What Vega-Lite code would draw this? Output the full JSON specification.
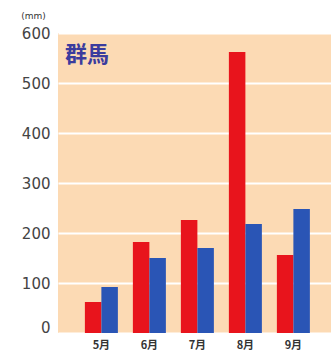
{
  "$schema": "https://vega.github.io/schema/vega-lite/v6.json",
  "width": 273,
  "height": 300,
  "autosize": {"type": "none"},
  "padding": {"left": 58, "top": 33, "right": 0, "bottom": 25},
  "background": "white",
  "title": {
    "text": "群馬",
    "anchor": "start",
    "frame": "group",
    "orient": "top",
    "offset": -56,
    "dx": 7,
    "font": "Noto Sans CJK JP",
    "fontSize": 22,
    "fontWeight": "bold",
    "color": "#3B3C9E"
  },
  "data": {
    "values": [
      {"month": "5月", "series": "a", "value": 62},
      {"month": "5月", "series": "b", "value": 92},
      {"month": "6月", "series": "a", "value": 182},
      {"month": "6月", "series": "b", "value": 150},
      {"month": "7月", "series": "a", "value": 226},
      {"month": "7月", "series": "b", "value": 170},
      {"month": "8月", "series": "a", "value": 562},
      {"month": "8月", "series": "b", "value": 218},
      {"month": "9月", "series": "a", "value": 156},
      {"month": "9月", "series": "b", "value": 248}
    ]
  },
  "mark": {"type": "bar"},
  "encoding": {
    "x": {
      "field": "month",
      "type": "nominal",
      "sort": null,
      "scale": {"paddingInner": 0.3125, "paddingOuter": 0.5, "align": 0.56},
      "axis": {
        "title": null,
        "labelAngle": 0,
        "domain": false,
        "ticks": false,
        "labelPadding": 6,
        "labelFont": "Noto Sans CJK JP",
        "labelFontSize": 11,
        "labelFontWeight": "bold",
        "labelColor": "#333"
      }
    },
    "xOffset": {"field": "series", "type": "nominal", "scale": {"paddingInner": 0, "paddingOuter": 0}},
    "y": {
      "field": "value",
      "type": "quantitative",
      "scale": {"domain": [0, 600]},
      "axis": {
        "title": "(mm)",
        "titleAngle": 0,
        "titleX": -25,
        "titleY": -18,
        "titleAlign": "center",
        "titleBaseline": "middle",
        "titleFont": "DejaVu Sans",
        "titleFontSize": 9,
        "titleFontWeight": "normal",
        "titleColor": "#333",
        "values": [0, 100, 200, 300, 400, 500, 600],
        "domain": false,
        "ticks": false,
        "labelPadding": 8,
        "labelFont": "DejaVu Sans",
        "labelFontSize": 15,
        "labelColor": "#444",
        "labelBaseline": "middle",
        "labelOffset": {"condition": {"test": "datum.value === 0", "value": -6}, "value": 0},
        "grid": true,
        "gridColor": "white",
        "gridWidth": 2,
        "gridOpacity": 1
      }
    },
    "color": {
      "field": "series",
      "type": "nominal",
      "scale": {"domain": ["a", "b"], "range": ["#E8141C", "#2A55B5"]},
      "legend": null
    }
  },
  "config": {
    "view": {"fill": "#FCDAB4", "stroke": null}
  }
}
